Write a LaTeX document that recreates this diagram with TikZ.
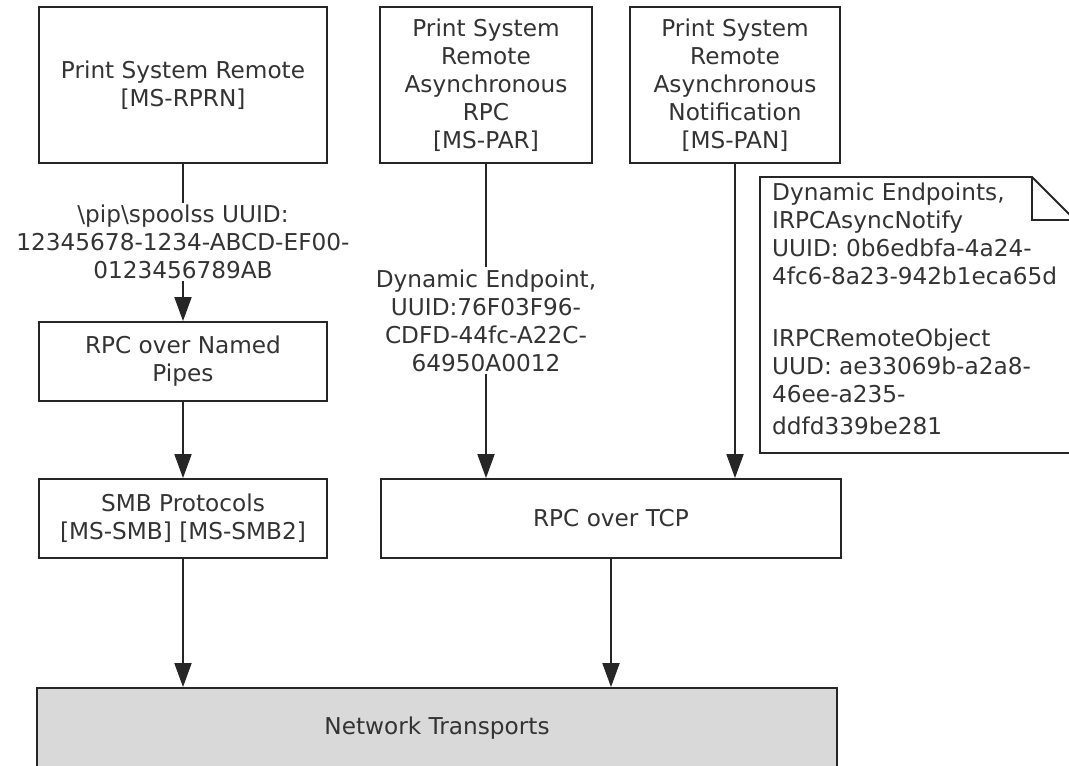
\documentclass[tikz,border=0pt]{standalone}
\usepackage{fontspec}
\setmainfont{DejaVu Sans}
\usetikzlibrary{arrows.meta}
\begin{document}
\begin{tikzpicture}[x=1pt,y=-1pt,
  every node/.style={font=\fontsize{23.2}{28}\selectfont, text=black!80},
  box/.style={draw=black!85, line width=1.8pt, align=center, inner sep=0pt},
  lbl/.style={align=center, inner sep=2pt},
  conn/.style={draw=black!85, line width=1.8pt},
  arr/.style={conn, -{Triangle[length=24pt,width=17pt]}}]
\useasboundingbox (0,0) rectangle (1069,766);

% top row
\node[box, minimum width=288pt, minimum height=156pt] (b1) at (183,85) {Print System Remote\\{[MS-RPRN]}};
\node[box, minimum width=212pt, minimum height=156pt] (b2) at (486,85) {Print System\\Remote\\Asynchronous\\RPC\\{[MS-PAR]}};
\node[box, minimum width=210pt, minimum height=156pt] (b3) at (735,85) {Print System\\Remote\\Asynchronous\\Notification\\{[MS-PAN]}};

% middle / lower boxes
\node[box, minimum width=288pt, minimum height=79pt] (np) at (183,361.5) {RPC over Named\\Pipes};
\node[box, minimum width=288pt, minimum height=79pt] (smb) at (183,518.5) {SMB Protocols\\{[MS-SMB] [MS-SMB2]}};
\node[box, minimum width=460pt, minimum height=79pt] (tcp) at (611,518.5) {RPC over TCP};
\node[box, fill=black!15, minimum width=800pt, minimum height=80pt] (net) at (437,728) {Network Transports};

% labels
\node[lbl] (l1) at (183,242) {\textbackslash pip\textbackslash spoolss UUID:\\12345678-1234-ABCD-EF00-\\0123456789AB};
\node[lbl] (l2) at (486,320.5) {Dynamic Endpoint,\\UUID:76F03F96-\\CDFD-44fc-A22C-\\64950A0012};

% note
\draw[conn] (760,177) -- (1032,177) -- (1078,223) -- (1078,453) -- (760,453) -- cycle;
\draw[conn] (1032,177) -- (1032,220) -- (1075,220);
\node[align=left, inner sep=0pt, anchor=north west] (note) at (772,183)
  {Dynamic Endpoints,\\IRPCAsyncNotify\\UUID: 0b6edbfa-4a24-\\4fc6-8a23-942b1eca65d\\[34pt]IRPCRemoteObject\\UUD: ae33069b-a2a8-\\46ee-a235-\\[4pt]ddfd339be281};

% connectors
\draw[conn] (b1.south) -- (l1.north);
\draw[arr] (l1.south) -- (np.north);
\draw[arr] (np.south) -- (smb.north);
\draw[conn] (b2.south) -- (l2.north);
\draw[arr] (l2.south) -- (l2.south |- tcp.north);
\draw[arr] (b3.south) -- (b3.south |- tcp.north);
\draw[arr] (smb.south) -- (smb.south |- net.north);
\draw[arr] (tcp.south) -- (tcp.south |- net.north);
\end{tikzpicture}
\end{document}
